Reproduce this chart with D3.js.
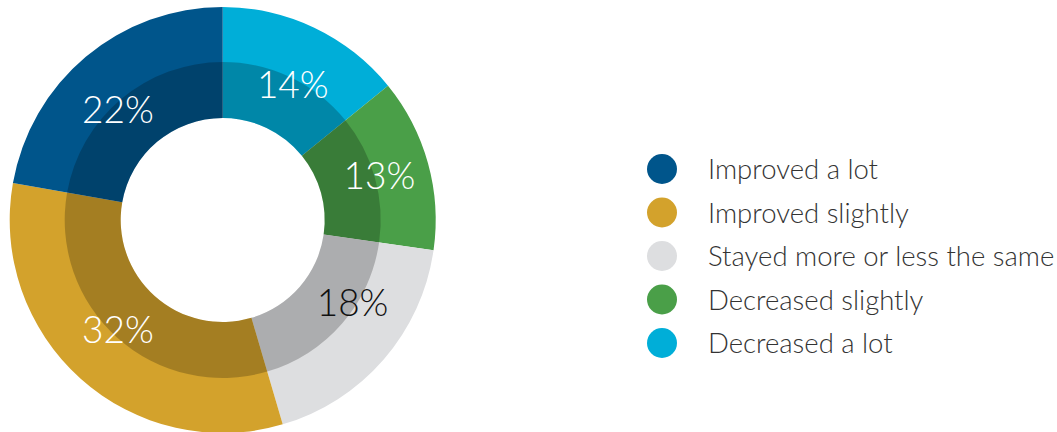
<!DOCTYPE html>
<html><head><meta charset="utf-8">
<script src="https://cdn.jsdelivr.net/npm/d3@7"></script>
<style>html,body{margin:0;padding:0;background:#fff;overflow:hidden}</style>
</head><body><svg id="c" width="1057" height="432"></svg>
<script>
const categories = ["Decreased a lot","Decreased slightly","Stayed more or less the same","Improved slightly","Improved a lot"];
const values = [14,13,18,32,22];
const labels = ["14%","13%","18%","32%","22%"];
const colors = ["#00AED8","#4A9F48","#DDDEE0","#D3A22C","#00558B"];
const labelColors = ["#fff","#fff","#111","#fff","#fff"];
const legendOrder = ["Improved a lot","Improved slightly","Stayed more or less the same","Decreased slightly","Decreased a lot"];

const svg = d3.select("#c");
const cx = 222.7, cy = 220, rOuter = 213, rMid = 158, rInner = 102;
const g = svg.append("g").attr("transform",`translate(${cx},${cy})`);
const pie = d3.pie().sort(null).value(d=>d)(values);
const arcOuter = d3.arc().innerRadius(rInner).outerRadius(rOuter);
const arcDark = d3.arc().innerRadius(rInner).outerRadius(rMid);
g.selectAll("path.o").data(pie).join("path").attr("class","o")
  .attr("d",arcOuter).attr("fill",(d,i)=>colors[i]);
g.selectAll("path.d").data(pie).join("path").attr("class","d")
  .attr("d",arcDark).attr("fill","rgba(0,0,0,0.22)");
// label placement tweaks (angle shift in degrees, radius) to mimic the original layout
const labAngleShift = [2,-0.5,-8.4,1.8,-3.6];
const labRadius = [152,163,154,152,152];
g.selectAll("text").data(pie).join("text")
  .attr("transform",(d,i)=>{
    const a = (d.startAngle+d.endAngle)/2 + labAngleShift[i]*Math.PI/180;
    const r = labRadius[i];
    return `translate(${r*Math.sin(a)},${-r*Math.cos(a)})`;})
  .attr("text-anchor","middle").attr("dy","0.36em")
  .attr("font-family","Lato, sans-serif").attr("font-weight",300).attr("font-size",37)
  .attr("fill",(d,i)=>labelColors[i]).text((d,i)=>labels[i]);

const color = d3.scaleOrdinal().domain(categories).range(colors);
const ly = d3.scalePoint().domain(legendOrder).range([169,343]);
const lg = svg.append("g");
const items = lg.selectAll("g").data(legendOrder).join("g")
  .attr("transform",d=>`translate(662,${ly(d)})`);
items.append("circle").attr("r",15).attr("fill",d=>color(d));
items.append("text").attr("x",46).attr("y",10)
  .attr("font-family","Lato, sans-serif").attr("font-weight",300).attr("font-size",27.5)
  .attr("fill","#333").text(d=>d);
</script></body></html>
